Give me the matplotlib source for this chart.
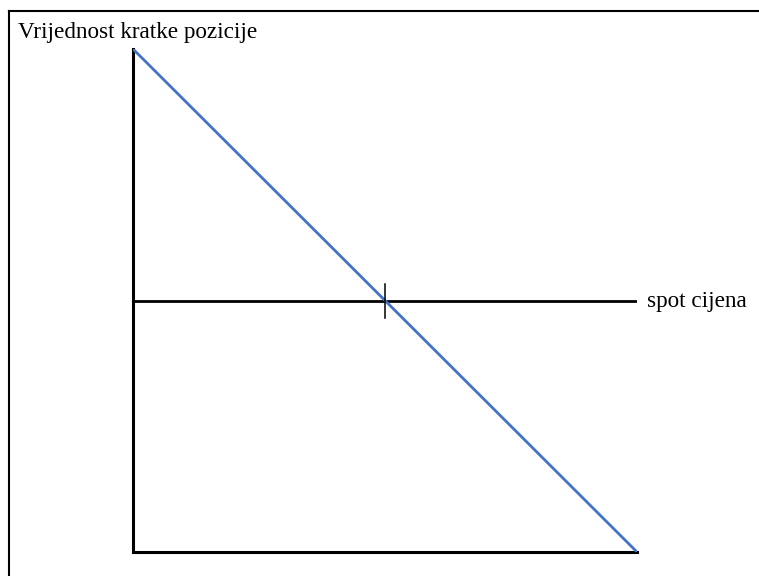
import matplotlib
matplotlib.use("Agg")
import matplotlib.pyplot as plt
from matplotlib.lines import Line2D

# payoff of a short forward position vs spot price
spot = [0.0, 2.0]
short_value = [1.0, -1.0]
strike = 1.0
y_label = "Vrijednost kratke pozicije"
x_label = "spot cijena"

W, H = 759, 576
fig = plt.figure(figsize=(W / 100, H / 100), dpi=100)
plt.rcParams["font.family"] = ["Liberation Serif", "DejaVu Serif"]

# outer frame (only top and left edges are visible in the crop)
fig.add_artist(Line2D([9 / W, 9 / W], [0, 1 - 11 / H], color="black", linewidth=1.5,
                      transform=fig.transFigure))
fig.add_artist(Line2D([9 / W, 1], [1 - 11 / H, 1 - 11 / H], color="black", linewidth=1.5,
                      transform=fig.transFigure))

ax = fig.add_axes([133 / W, (H - 552) / H, 504 / W, 503 / H])
ax.set_xlim(spot[0], spot[-1])
ax.set_ylim(short_value[-1], short_value[0])

ax.plot(spot, short_value, color="#4472C4", linewidth=2.0, solid_capstyle="butt", zorder=3)
ax.axhline(0, color="black", linewidth=2.0, zorder=2)
ax.plot([strike, strike], [-0.07, 0.065], color="black", linewidth=1.1, zorder=4)

ax.spines[["top", "right"]].set_visible(False)
for s in ("left", "bottom"):
    ax.spines[s].set_linewidth(2.2)
    ax.spines[s].set_capstyle("projecting")
ax.set_xticks([])
ax.set_yticks([])
ax.patch.set_visible(False)

fig.text(18 / W, 1 - 38 / H, y_label, fontsize=16.7, va="baseline", ha="left")
fig.text(647 / W, 1 - 302 / H, x_label, fontsize=16.7, va="center", ha="left")

fig.savefig("out.png", dpi=100)
